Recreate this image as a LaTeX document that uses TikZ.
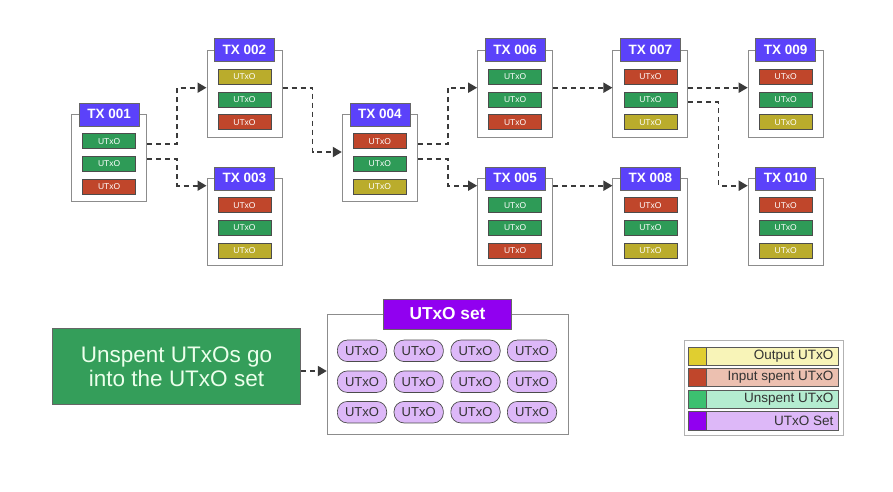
\documentclass[tikz,border=0pt]{standalone}
\usepackage{fontspec}
\setmainfont{Liberation Sans}
\usetikzlibrary{arrows.meta,calc}
\definecolor{txblue}{RGB}{91,66,250}
\definecolor{uy}{RGB}{186,172,44}
\definecolor{ug}{RGB}{46,155,87}
\definecolor{ur}{RGB}{192,70,43}
\definecolor{setpurple}{RGB}{145,0,240}
\definecolor{pillc}{RGB}{221,184,248}
\definecolor{bigg}{RGB}{52,158,90}
\definecolor{ly}{RGB}{224,206,48}
\definecolor{lyf}{RGB}{248,244,184}
\definecolor{lr}{RGB}{192,70,43}
\definecolor{lrf}{RGB}{236,192,176}
\definecolor{lg}{RGB}{60,192,112}
\definecolor{lgf}{RGB}{180,236,208}
\definecolor{lp}{RGB}{145,0,240}
\definecolor{lpf}{RGB}{221,184,248}
\definecolor{conncol}{RGB}{58,58,58}
\tikzset{
  txbox/.style={draw=black!45, line width=1pt, fill=white, minimum width=75pt, minimum height=87pt, inner sep=0pt},
  txtitle/.style={draw=black!60, line width=0.6pt, fill=txblue, text=white, font=\bfseries\fontsize{13.5}{14}\selectfont, minimum width=60pt, minimum height=23pt, inner sep=0pt},
  bar/.style={draw=black!70, line width=0.6pt, text=white, font=\fontsize{8.5}{9}\selectfont, minimum width=53pt, minimum height=15pt, inner sep=0pt},
  conn/.style={draw=conncol, line width=1.8pt, dash pattern=on 5pt off 4pt, -{Triangle[length=9pt,width=10pt]}},
  pill/.style={draw=black!70, line width=0.7pt, fill=pillc, rounded corners=10pt, minimum width=49.3pt, minimum height=21.5pt, inner sep=0pt, text=black!80, font=\fontsize{13}{14}\selectfont},
  legrow/.style={draw=black!65, line width=0.7pt, minimum width=150pt, minimum height=18.4pt, inner sep=0pt},
  legsq/.style={draw=black!65, line width=0.7pt, minimum width=18.4pt, minimum height=18.4pt, inner sep=0pt},
  legtext/.style={text=black!80, font=\fontsize{13.5}{14}\selectfont, inner sep=0pt},
}
\newcommand{\TXblock}[7]{%
  \node[txbox, anchor=north] (#1) at (#2,#3) {};
  \node[txtitle] (#1t) at (#1.north) {#4};
  \node[bar, fill=#5] (#1a) at ($(#1.north)+(0,26.8)$) {UTxO};
  \node[bar, fill=#6] (#1b) at ($(#1.north)+(0,49.5)$) {UTxO};
  \node[bar, fill=#7] (#1c) at ($(#1.north)+(0,72.2)$) {UTxO};
}
\begin{document}
\begin{tikzpicture}[x=1pt,y=-1pt]
\fill[white] (0,0) rectangle (893,491);
\useasboundingbox (0,0) rectangle (893,491);
% transactions
\TXblock{t1}{109.2}{114.3}{TX 001}{ug}{ug}{ur}
\TXblock{t2}{244.5}{50}{TX 002}{uy}{ug}{ur}
\TXblock{t3}{244.5}{178.3}{TX 003}{ur}{ug}{uy}
\TXblock{t4}{379.8}{114.3}{TX 004}{ur}{ug}{uy}
\TXblock{t6}{515.1}{50}{TX 006}{ug}{ug}{ur}
\TXblock{t5}{515.1}{178.3}{TX 005}{ug}{ug}{ur}
\TXblock{t7}{650.4}{50}{TX 007}{ur}{ug}{uy}
\TXblock{t8}{650.4}{178.3}{TX 008}{ur}{ug}{uy}
\TXblock{t9}{785.7}{50}{TX 009}{ur}{ug}{uy}
\TXblock{t10}{785.7}{178.3}{TX 010}{ur}{ug}{uy}
% connectors
\draw[conn] ([yshift=-30pt]t1.north east) -- ++(30,0) |- ([yshift=-37.7pt]t2.north west);
\draw[conn] ([yshift=-44.7pt]t1.north east) -- ++(30,0) |- ([yshift=-7.4pt]t3.north west);
\draw[conn] ([yshift=-37.7pt]t2.north east) -- ++(30,0) |- ([yshift=-37.7pt]t4.north west);
\draw[conn] ([yshift=-30pt]t4.north east) -- ++(30,0) |- ([yshift=-37.7pt]t6.north west);
\draw[conn] ([yshift=-44.7pt]t4.north east) -- ++(30,0) |- ([yshift=-7.4pt]t5.north west);
\draw[conn] ([yshift=-37.7pt]t6.north east) -- ([yshift=-37.7pt]t7.north west);
\draw[conn] ([yshift=-7.4pt]t5.north east) -- ([yshift=-7.4pt]t8.north west);
\draw[conn] ([yshift=-37.7pt]t7.north east) -- ([yshift=-37.7pt]t9.north west);
\draw[conn] ([yshift=-52.3pt]t7.north east) -- ++(30,0) |- ([yshift=-7.4pt]t10.north west);
% green box
\node[draw=black!60, line width=0.8pt, fill=bigg, minimum width=248.4pt, minimum height=75.6pt, inner sep=0pt, text=white!92!green, align=center, font=\fontsize{22.5}{23.5}\selectfont] (gbox) at (176.5,366.5) {Unspent UTxOs go\\into the UTxO set};
% UTxO set
\node[draw=black!45, line width=1pt, fill=white, minimum width=241pt, minimum height=120.3pt, inner sep=0pt] (set) at (447.8,374.2) {};
\node[draw=black!60, line width=0.6pt, fill=setpurple, text=white, font=\bfseries\fontsize{17.3}{18}\selectfont, minimum width=128.4pt, minimum height=30pt, inner sep=0pt] (sett) at (447.5,314) {UTxO set};
\coordinate (gout) at ([yshift=-4.5pt]gbox.east);
\draw[conn] (gout) -- (gout -| set.west);
\foreach \r [count=\i] in {350.8,381.7,412.2}{
  \foreach \c [count=\j] in {362,418.7,475.5,532}{
    \node[pill] (p\i\j) at (\c,\r) {UTxO};
  }
}
% legend
\node[draw=black!30, line width=0.8pt, minimum width=159.3pt, minimum height=94.3pt, inner sep=0pt] (leg) at (763.7,387.9) {};
\foreach \y/\sq/\fl/\tx [count=\k] in {356.5/ly/lyf/Output UTxO, 377.5/lr/lrf/Input spent UTxO, 399.2/lg/lgf/Unspent UTxO, 420.9/lp/lpf/UTxO Set}{
  \node[legrow, fill=\fl] (lr\k) at (763.3,\y) {};
  \node[legsq, fill=\sq, anchor=west] (ls\k) at (lr\k.west) {};
  \node[legtext, anchor=east] (lt\k) at ([xshift=-5pt]lr\k.east) {\tx};
}
\end{tikzpicture}
\end{document}
